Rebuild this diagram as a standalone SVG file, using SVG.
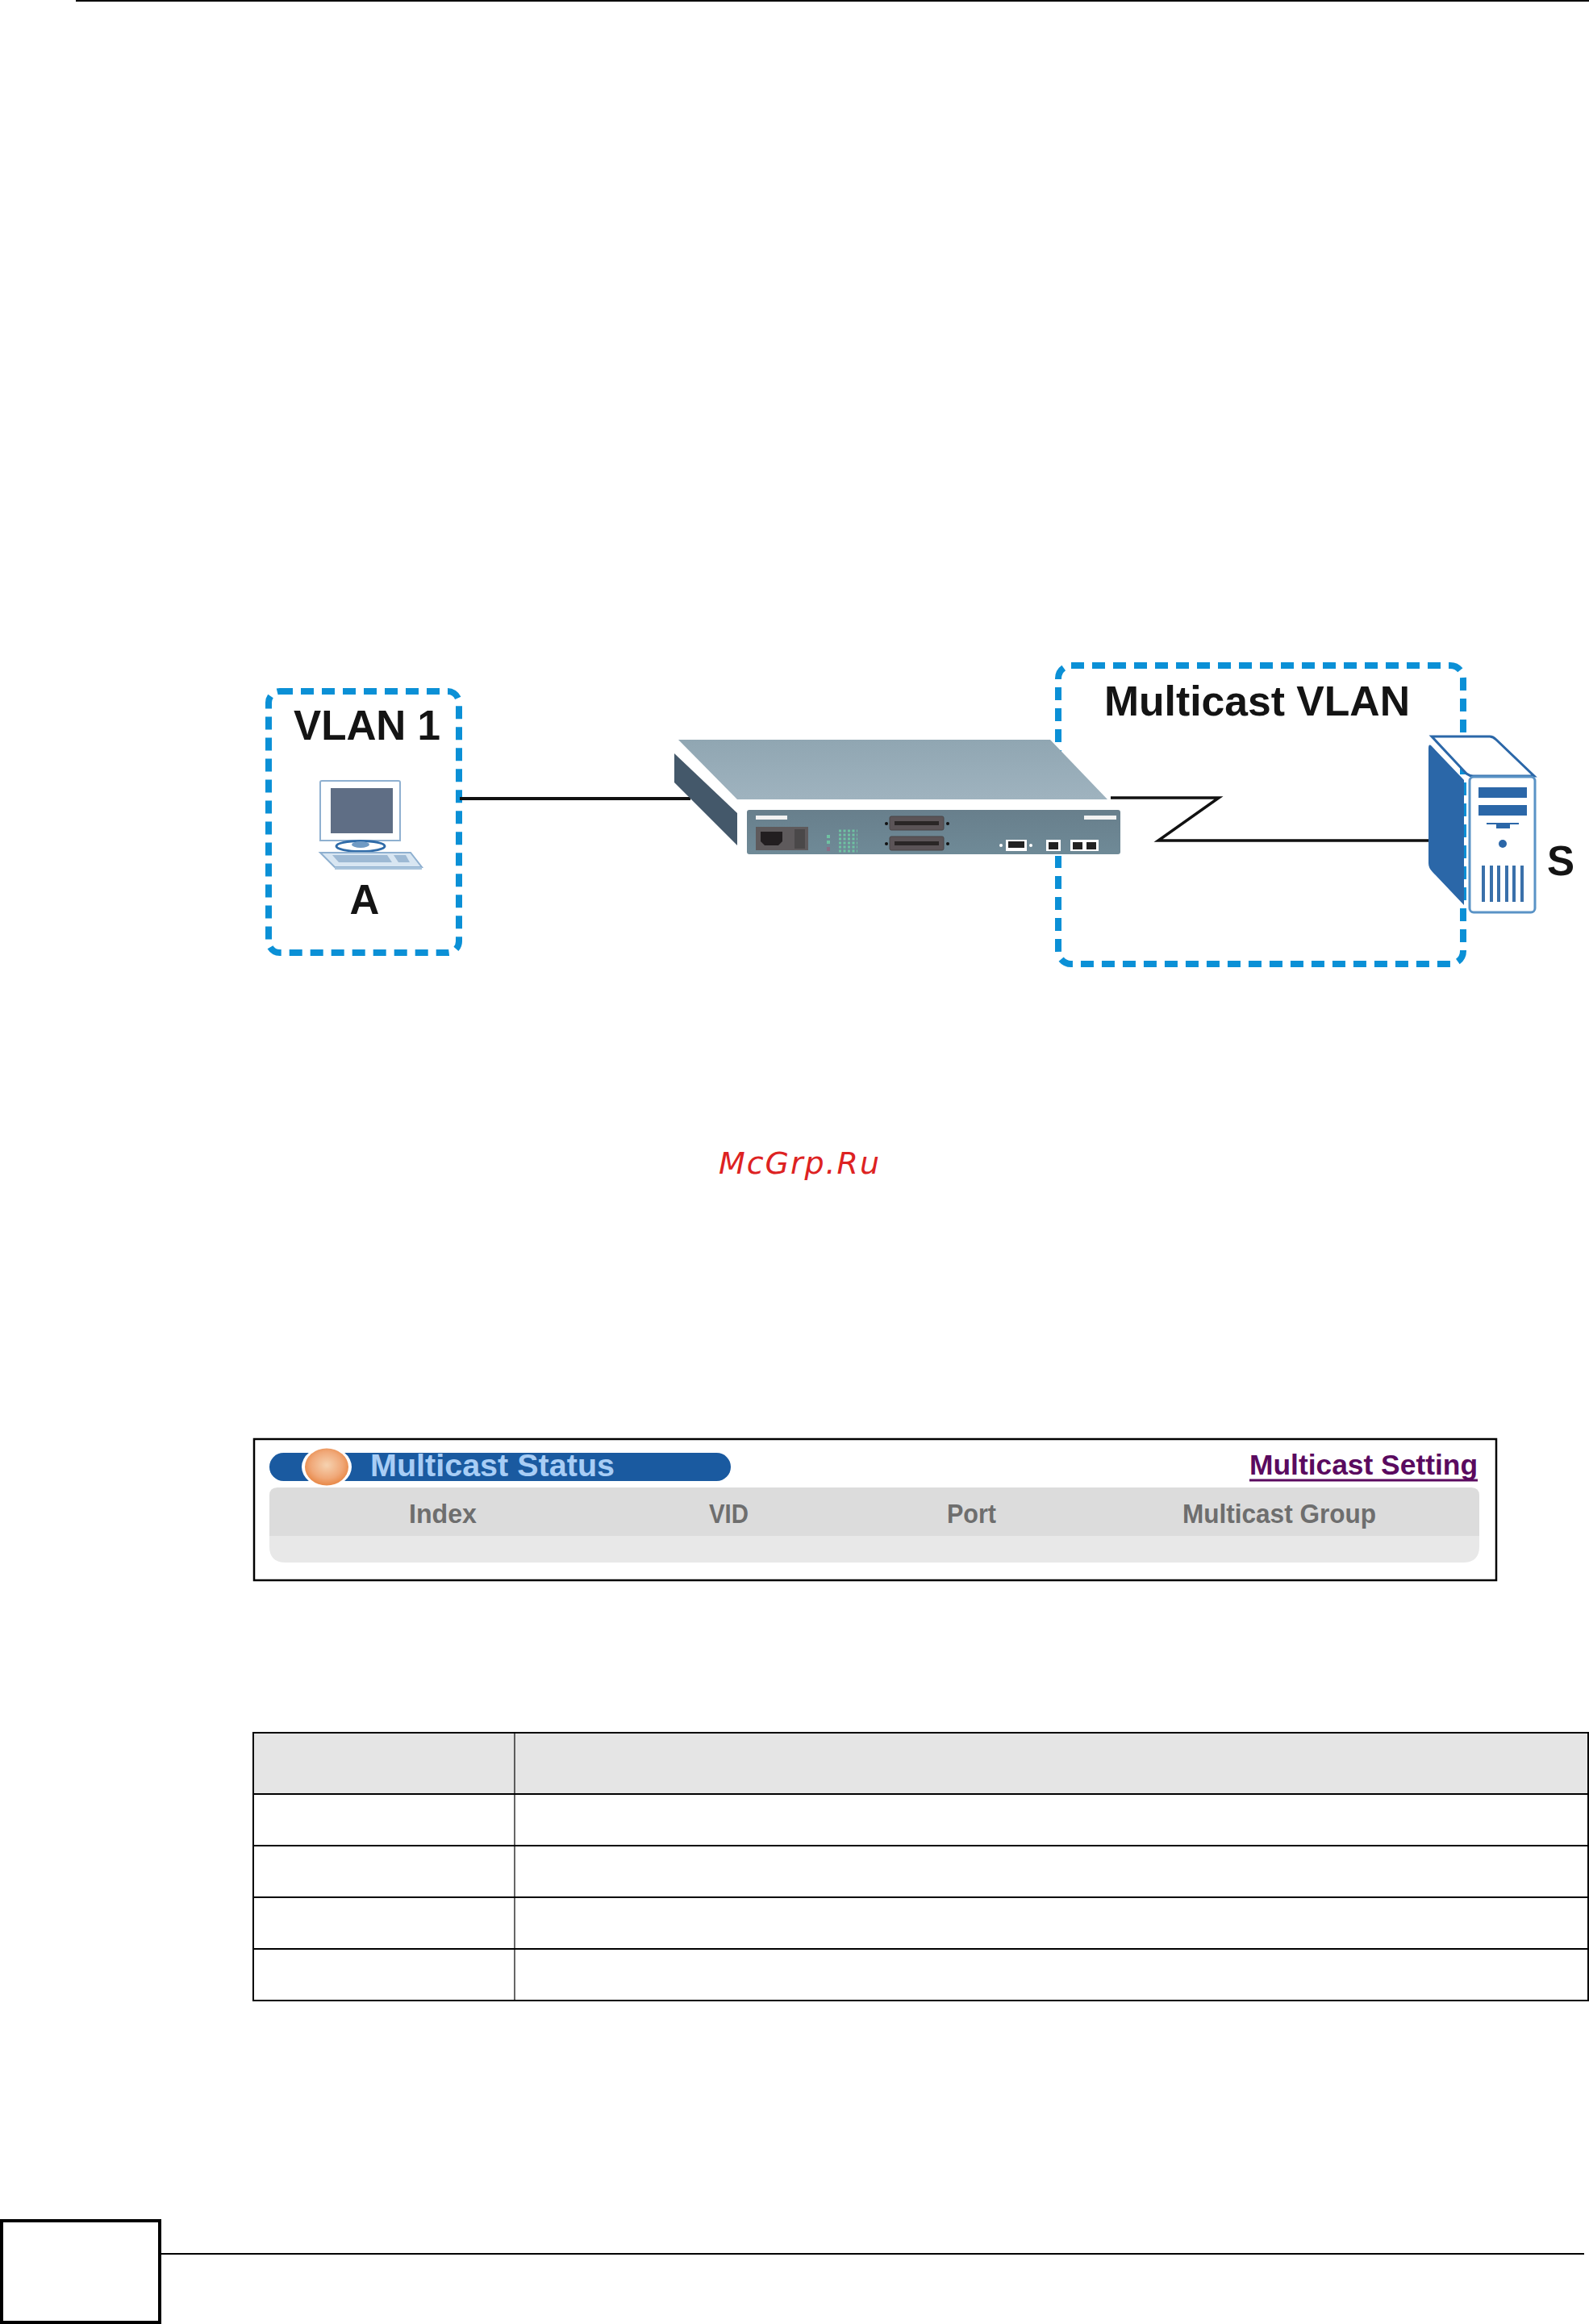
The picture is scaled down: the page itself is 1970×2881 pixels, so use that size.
<svg xmlns="http://www.w3.org/2000/svg" width="1970" height="2881" viewBox="0 0 1970 2881">
<defs>
<style>
.lbl{font-family:"Liberation Sans",Arial,sans-serif;font-weight:700;fill:#141414}
.dash{fill:none;stroke:#0b90d6;stroke-width:8;stroke-dasharray:16 10}
.wire{fill:none;stroke:#111;stroke-linejoin:miter}
.rule{stroke:#000;fill:none}
.hdr{font-family:"Liberation Sans",Arial,sans-serif;font-weight:700;font-size:34px;fill:#6e6e6e}
.blue{fill:#2b67a8}
.led{fill:#6fc2a2}
.port{fill:#fff}
.jack{fill:#222}
.conn{fill:#5b5457;stroke:#4a4547}
.slot{fill:#2a2626}
.screw{fill:#111}
.vent{stroke:#3a70aa;stroke-width:4;fill:none}
</style>
<radialGradient id="ball" cx=".5" cy=".45" r=".6"><stop offset="0" stop-color="#f6d2b0"/><stop offset=".6" stop-color="#f0a878"/><stop offset="1" stop-color="#e6803a"/></radialGradient>
<linearGradient id="top" x1="0" y1="0" x2="0" y2="1"><stop offset="0" stop-color="#90a6b2"/><stop offset="1" stop-color="#9fb3bf"/></linearGradient>
<linearGradient id="front" x1="0" y1="0" x2="0" y2="1"><stop offset="0" stop-color="#687f8c"/><stop offset="1" stop-color="#6f8a97"/></linearGradient>
</defs>
<rect width="1970" height="2881" fill="#fff"/>
<g id="page-frame">
<line class="rule" x1="94" y1="1" x2="1970" y2="1" stroke-width="2"/>
<rect class="rule" x="2" y="2753" width="196" height="126" stroke-width="4"/>
<line class="rule" x1="200" y1="2794" x2="1964" y2="2794" stroke-width="2"/>
</g>
<g id="vlan1">
<rect class="dash" x="333" y="857" width="236" height="324" rx="14"/>
<text class="lbl" x="364" y="917" font-size="52" textLength="182" lengthAdjust="spacingAndGlyphs">VLAN 1</text>
</g>
<g id="multicast-vlan">
<rect class="dash" x="1312" y="825" width="502" height="370" rx="16"/>
<text class="lbl" x="1369" y="887" font-size="52" textLength="379" lengthAdjust="spacingAndGlyphs">Multicast VLAN</text>
</g>
<g id="connectors">
<line class="wire" x1="570" y1="990" x2="856" y2="990" stroke-width="4"/>
<polyline class="wire" points="1377,989 1511,989 1436,1042 1771,1042" stroke-width="3.500"/>
</g>
<g id="computer-a">
<path d="M397 970Q397 968 399 968H494Q496 968 496 970V1042H397Z" fill="#fff" stroke="#8fb0d0" stroke-width="2"/>
<rect x="410" y="977" width="77" height="56" fill="#5f6e85"/>
<ellipse cx="447" cy="1049" rx="30" ry="6.500" fill="#fff" stroke="#2f6ba8" stroke-width="3"/>
<ellipse cx="447" cy="1047" rx="11" ry="4" fill="#6f9ac4"/>
<path d="M397 1057H509L523 1075H415Z" fill="#d8e6f2" stroke="#8fb0d0" stroke-width="2"/>
<path d="M415 1075H523V1078H415Z" fill="#a9c4dc"/>
<path d="M412 1060H480L486 1069H420Z" fill="#9db9d4"/>
<path d="M488 1060H503L508 1069H494Z" fill="#9db9d4"/>
<text class="lbl" x="452" y="1133" font-size="51" text-anchor="middle">A</text>
</g>
<g id="switch">
<path d="M905 991H1392V1061H905Z" fill="#fff"/>
<path d="M841 917H1302L1373 991H914Z" fill="url(#top)"/>
<path d="M836 934L914 1008V1048L836 970Z" fill="#44586a"/>
<rect x="926" y="1004" width="463" height="55" rx="3" fill="url(#front)"/>
<rect x="937" y="1011" width="39" height="5" fill="#f2f2f2"/>
<rect x="1344" y="1011" width="40" height="5" fill="#f2f2f2"/>
<rect x="937" y="1025" width="65" height="29" fill="#5e5a5c"/>
<path d="M943 1031H970V1043L965 1048H948L943 1043Z" fill="#221e20"/>
<rect x="985" y="1028" width="13" height="24" fill="#4a4849"/>
<rect class="led" x="1025" y="1035" width="4" height="4"/>
<rect class="led" x="1025" y="1042" width="4" height="4"/>
<rect x="1025" y="1050" width="4" height="5" fill="#8a6d86"/>
<path d="M1040 1030h23M1040 1035h23M1040 1040h23M1040 1045h23M1040 1050h23M1040 1055h23" stroke="#6fc2a2" stroke-width="3" stroke-dasharray="3 2.500" fill="none"/>
<rect class="conn" x="1103" y="1012" width="67" height="17" rx="2"/>
<rect class="slot" x="1109" y="1018" width="55" height="5"/>
<rect class="conn" x="1103" y="1037" width="67" height="17" rx="2"/>
<rect class="slot" x="1109" y="1043" width="55" height="5"/>
<circle class="screw" cx="1099" cy="1021" r="2"/><circle class="screw" cx="1175" cy="1021" r="2"/>
<circle class="screw" cx="1099" cy="1046" r="2"/><circle class="screw" cx="1175" cy="1046" r="2"/>
<rect class="port" x="1247" y="1041" width="26" height="14"/><rect class="jack" x="1250" y="1043" width="20" height="8"/>
<circle class="port" cx="1241" cy="1048" r="2"/><circle class="port" cx="1278" cy="1048" r="2"/>
<rect class="port" x="1297" y="1041" width="18" height="14"/><rect class="jack" x="1300" y="1044" width="12" height="9"/>
<rect class="port" x="1327" y="1041" width="35" height="14"/><rect class="jack" x="1330" y="1044" width="12" height="9"/><rect class="jack" x="1347" y="1044" width="12" height="9"/>
</g>
<g id="server-s">
<path d="M1775 925L1815 967V1122L1776 1081Q1771 1076 1771 1070V928Q1771 921 1775 925Z" class="blue"/>
<path d="M1775 913H1847Q1851 913 1855 917L1902 962H1826Q1822 962 1818 959Z" fill="#fff" stroke="#2b67a8" stroke-width="3"/>
<rect x="1822" y="963" width="81" height="168" rx="5" fill="#fff" stroke="#5a93c6" stroke-width="3"/>
<rect class="blue" x="1833" y="976" width="60" height="13"/>
<rect class="blue" x="1833" y="998" width="60" height="13"/>
<rect class="blue" x="1843" y="1020" width="40" height="2"/>
<rect class="blue" x="1855" y="1021" width="17" height="6"/>
<circle class="blue" cx="1863" cy="1046" r="5"/>
<path class="vent" d="M1839 1073V1118M1849 1073V1118M1858 1073V1118M1868 1073V1118M1877 1073V1118M1887 1073V1118"/>
<text class="lbl" x="1935" y="1085" font-size="51" text-anchor="middle">S</text>
</g>
<g id="watermark">
<text x="891" y="1455" font-family="'DejaVu Sans',sans-serif" font-style="italic" font-size="38" fill="#dd2222" textLength="199" lengthAdjust="spacing">McGrp.Ru</text>
</g>
<g id="multicast-status">
<rect x="315" y="1784" width="1540" height="175" fill="#fff" stroke="#000" stroke-width="2.500"/>
<path d="M344 1844H1824Q1834 1844 1834 1854V1904H334V1854Q334 1844 344 1844Z" fill="#dcdcdc"/>
<path d="M334 1904H1834V1917Q1834 1937 1814 1937H354Q334 1937 334 1917Z" fill="#e8e8e8"/>
<rect x="334" y="1801" width="572" height="35" rx="17.500" fill="#1a5aa0"/>
<ellipse cx="405" cy="1818.500" rx="31" ry="25" fill="#fff"/>
<ellipse cx="405" cy="1818.500" rx="27" ry="23" fill="url(#ball)"/>
<text x="459" y="1830" font-family="'Liberation Sans',Arial,sans-serif" font-weight="700" font-size="39" fill="#a8cdf5" textLength="303" lengthAdjust="spacingAndGlyphs">Multicast Status</text>
<text x="1549" y="1828" font-family="'Liberation Sans',Arial,sans-serif" font-weight="700" font-size="35" fill="#5a0a5f" textLength="283" lengthAdjust="spacingAndGlyphs">Multicast Setting</text>
<line x1="1549" y1="1835" x2="1832" y2="1835" stroke="#5a0a5f" stroke-width="3"/>
<text class="hdr" x="507" y="1888" textLength="84" lengthAdjust="spacingAndGlyphs">Index</text>
<text class="hdr" x="879" y="1888" textLength="49" lengthAdjust="spacingAndGlyphs">VID</text>
<text class="hdr" x="1174" y="1888" textLength="61" lengthAdjust="spacingAndGlyphs">Port</text>
<text class="hdr" x="1466" y="1888" textLength="240" lengthAdjust="spacingAndGlyphs">Multicast Group</text>
</g>
<g id="table">
<rect x="314" y="2148" width="1655" height="76" fill="#e5e5e5"/>
<rect x="314" y="2148" width="1655" height="332" fill="none" stroke="#000" stroke-width="2"/>
<path d="M314 2224H1969M314 2288H1969M314 2352H1969M314 2416H1969" stroke="#000" stroke-width="2" fill="none"/>
<line x1="638" y1="2148" x2="638" y2="2480" stroke="#000" stroke-width="1.200"/>
</g>
</svg>
